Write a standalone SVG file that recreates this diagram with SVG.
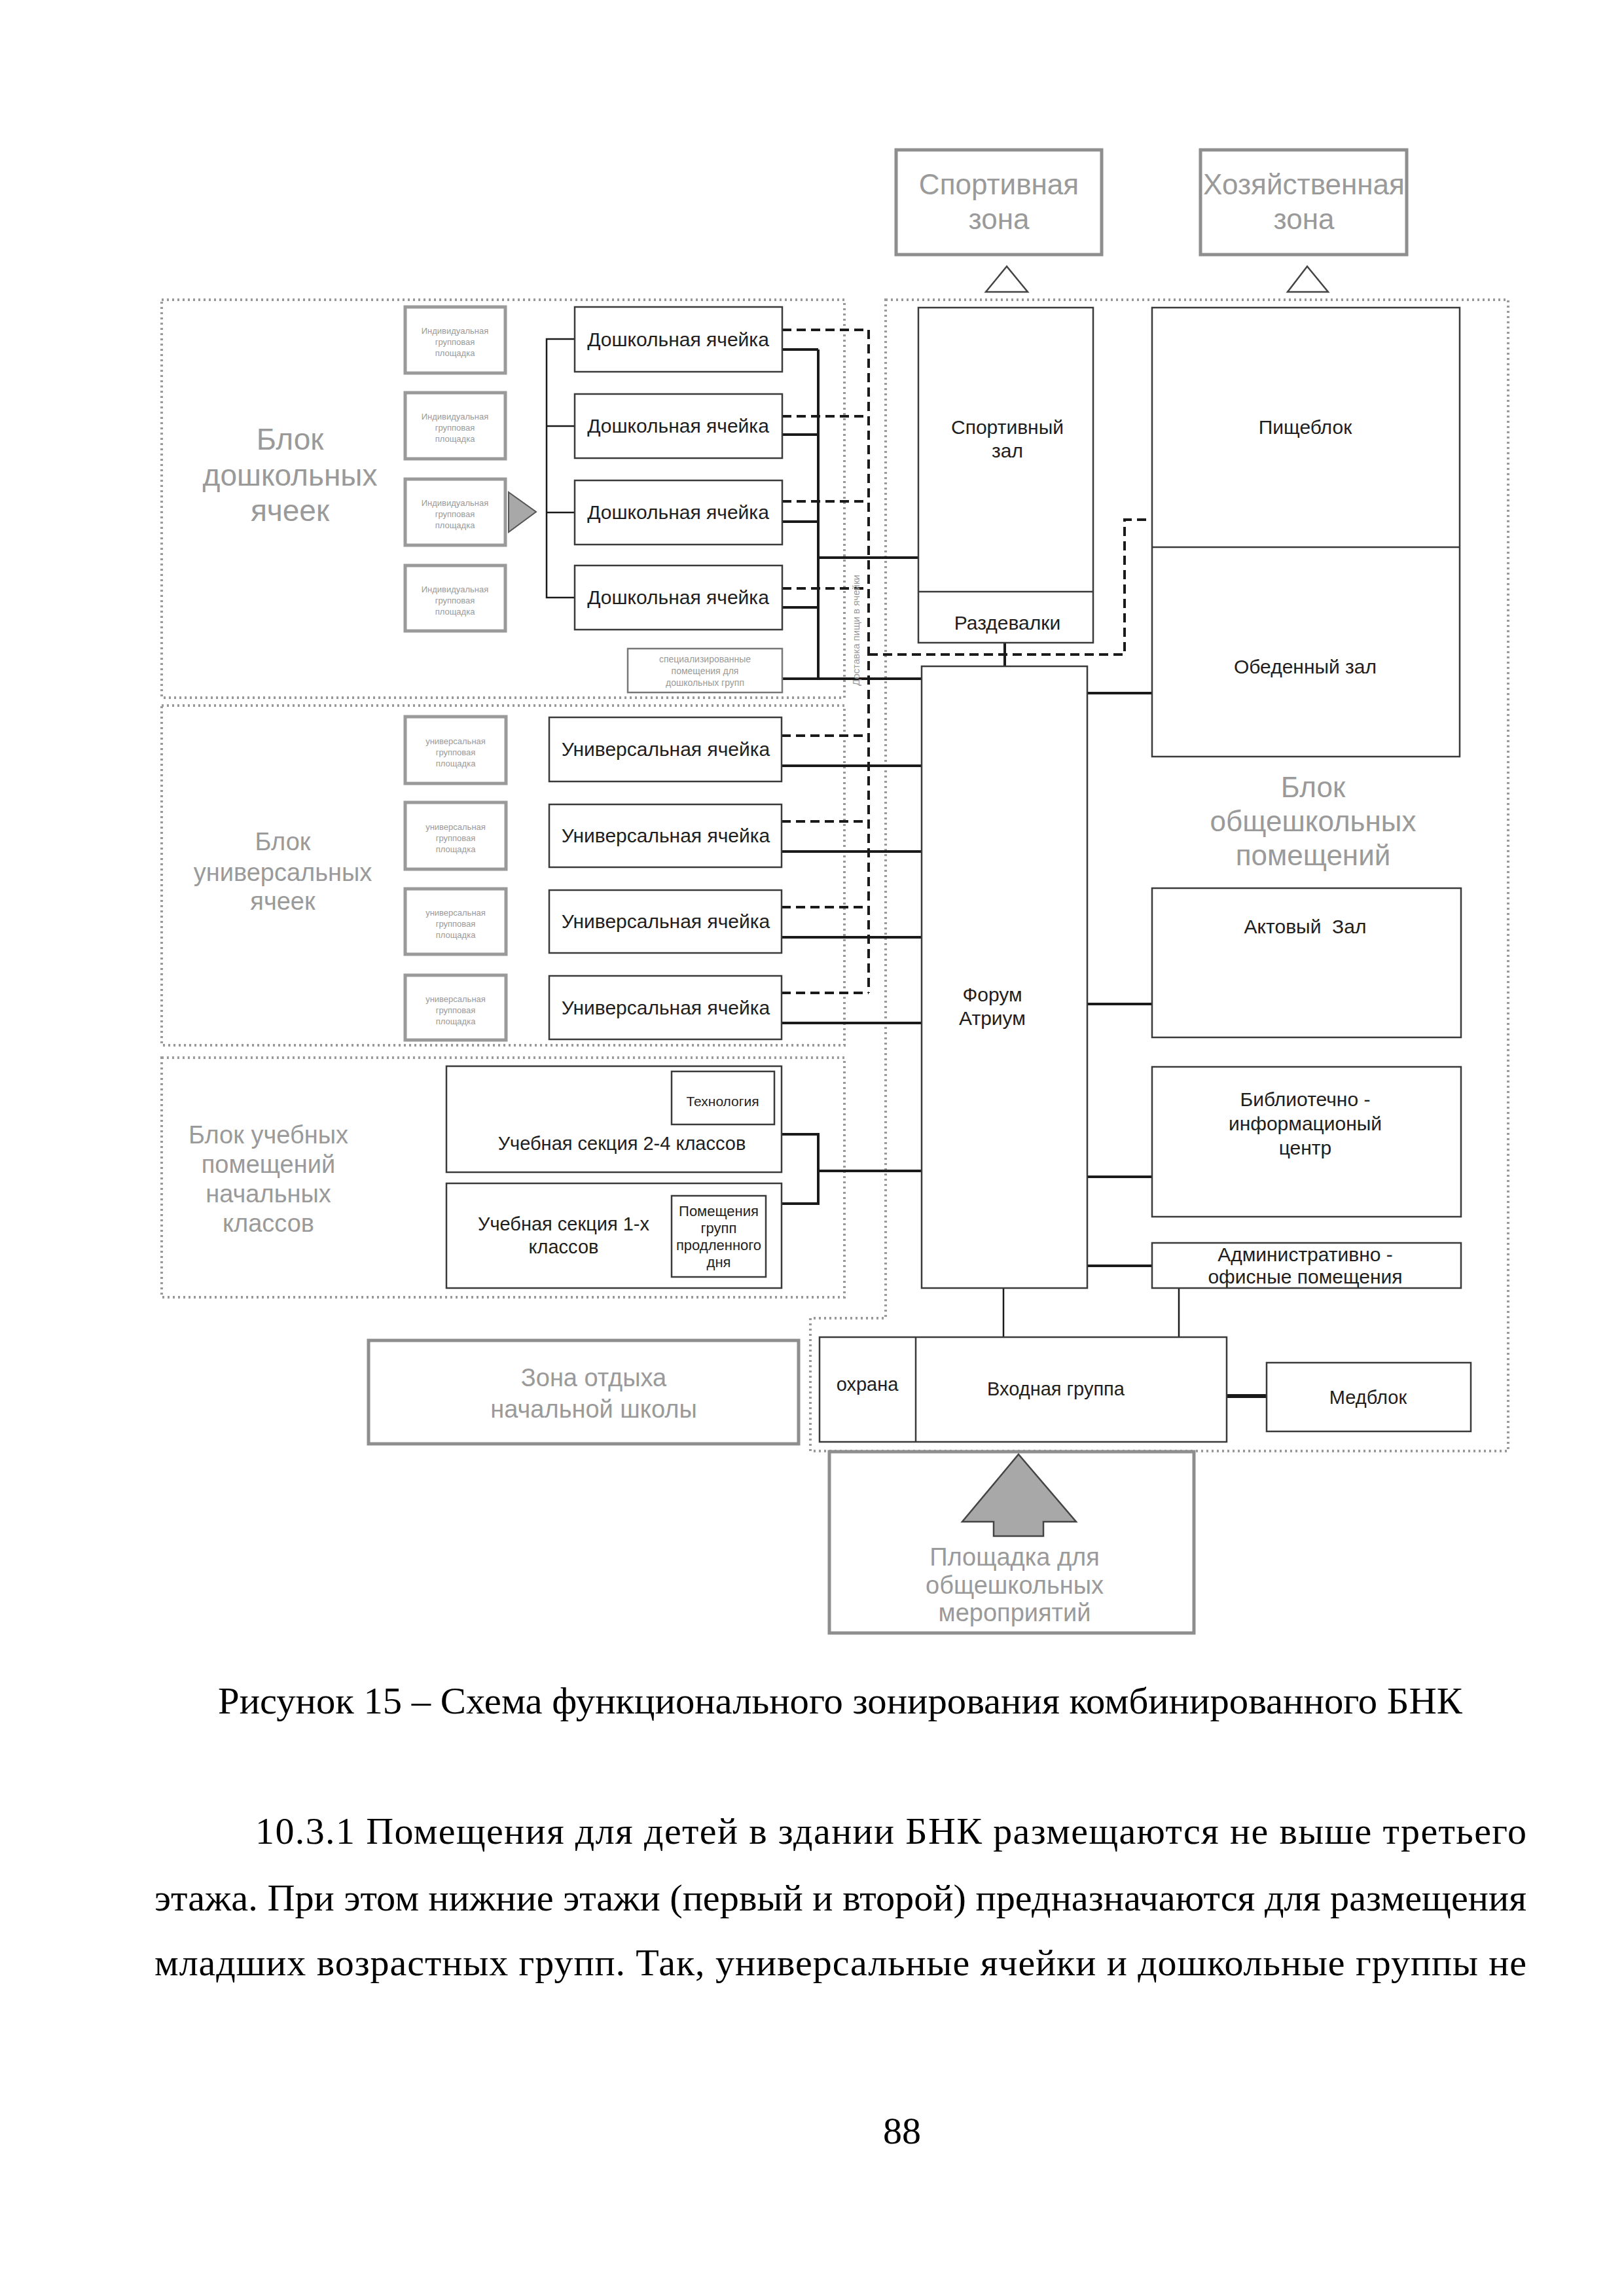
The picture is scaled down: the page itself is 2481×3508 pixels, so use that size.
<svg xmlns="http://www.w3.org/2000/svg" width="2481" height="3508" viewBox="0 0 2481 3508">
<style>
.bg{fill:#fff}
.zone{fill:#fff;stroke:#8e8e8e;stroke-width:5}
.blk{fill:none;stroke:#9a9a9a;stroke-width:4;stroke-dasharray:3 5}
.node{fill:#fff;stroke:#3a3a3a;stroke-width:2.5}
.small{fill:#fff;stroke:#9a9a9a;stroke-width:5}
.ln{fill:none;stroke:#1a1a1a;stroke-width:4}
.thin{fill:none;stroke:#1a1a1a;stroke-width:2.5}
.dash{fill:none;stroke:#1a1a1a;stroke-width:4;stroke-dasharray:14 8}
.t{font-family:"Liberation Sans",Arial,sans-serif;fill:#1e1e1e;text-anchor:middle}
.g{font-family:"Liberation Sans",Arial,sans-serif;fill:#9a9a9a;text-anchor:middle}
.s{font-family:"Liberation Serif","Times New Roman",serif;fill:#000;font-size:58px}
</style>
<rect class="bg" x="0" y="0" width="2481" height="3508"/>

<!-- block borders -->
<g id="blocks">
<rect class="blk" x="247" y="458" width="1043" height="608"/>
<rect class="blk" x="247" y="1078" width="1043" height="519"/>
<rect class="blk" x="247" y="1616" width="1043" height="366"/>
<path class="blk" d="M1353,458 H2304 V2217 H1238 V2014 H1353 Z"/>
<text class="g" font-size="46" x="443"><tspan x="443" y="687">Блок</tspan><tspan x="443" y="742">дошкольных</tspan><tspan x="443" y="796">ячеек</tspan></text>
<text class="g" font-size="38" x="432"><tspan x="432" y="1299">Блок</tspan><tspan x="432" y="1346">универсальных</tspan><tspan x="432" y="1390">ячеек</tspan></text>
<text class="g" font-size="38" x="410"><tspan x="410" y="1747">Блок учебных</tspan><tspan x="410" y="1792">помещений</tspan><tspan x="410" y="1837">начальных</tspan><tspan x="410" y="1882">классов</tspan></text>
<text class="g" font-size="44" x="2006"><tspan x="2006" y="1218">Блок</tspan><tspan x="2006" y="1270">общешкольных</tspan><tspan x="2006" y="1322">помещений</tspan></text>
</g>

<!-- connectors -->
<g id="connectors">
<path class="thin" d="M878,518 H835 V913 H878 M835,651 H878 M835,783 H878"/>
<path class="ln" d="M1195,534 H1250 M1195,664 H1250 M1195,797 H1250 M1195,928 H1250 M1250,534 V1037 M1195,1037 H1408 M1250,852 H1403"/>
<path class="dash" d="M1195,504 H1327 M1195,636 H1327 M1195,766 H1327 M1195,899 H1327"/>
<path class="dash" d="M1194,1124 H1327 M1194,1255 H1327 M1194,1386 H1327 M1194,1517 H1327 M1327,504 V1517"/>
<path class="ln" d="M1194,1170 H1408 M1194,1301 H1408 M1194,1432 H1408 M1194,1563 H1408"/>
<path class="ln" d="M1194,1733 H1250 V1839 H1194 M1250,1789 H1408"/>
<path class="dash" d="M1327,1000 H1718 V794 H1760"/>
<path class="ln" d="M1535,982 V1018"/>
<path class="ln" d="M1661,1059 H1760 M1661,1534 H1760 M1661,1798 H1760 M1661,1934 H1760"/>
<path class="thin" d="M1533,1968 V2043 M1801,1968 V2043"/>
<path class="ln" d="M1874,2133 H1935" style="stroke-width:6"/>
<text class="g" font-size="15" transform="translate(1313,963) rotate(-90)" x="0" y="0">Доставка пищи в ячейки</text>
</g>

<!-- outer zones -->
<g id="sport-zone">
<rect class="zone" x="1369" y="229" width="314" height="160"/>
<text class="g" font-size="44"><tspan x="1526" y="297">Спортивная</tspan><tspan x="1526" y="350">зона</tspan></text>
<polygon points="1538,407 1506,446 1570,446" fill="#fff" stroke="#444" stroke-width="2.5"/>
</g>
<g id="household-zone">
<rect class="zone" x="1834" y="229" width="315" height="160"/>
<text class="g" font-size="44"><tspan x="1992" y="297">Хозяйственная</tspan><tspan x="1992" y="350">зона</tspan></text>
<polygon points="1997,407 1967,446 2029,446" fill="#fff" stroke="#444" stroke-width="2.5"/>
</g>

<!-- preschool block -->
<g id="preschool-play-1"><rect class="small" x="619" y="469" width="153" height="101"/><text class="g" font-size="13"><tspan x="695" y="510">Индивидуальная</tspan><tspan x="695" y="527">групповая</tspan><tspan x="695" y="544">площадка</tspan></text></g>
<g id="preschool-play-2"><rect class="small" x="619" y="600" width="153" height="101"/><text class="g" font-size="13"><tspan x="695" y="641">Индивидуальная</tspan><tspan x="695" y="658">групповая</tspan><tspan x="695" y="675">площадка</tspan></text></g>
<g id="preschool-play-3"><rect class="small" x="619" y="732" width="153" height="101"/><text class="g" font-size="13"><tspan x="695" y="773">Индивидуальная</tspan><tspan x="695" y="790">групповая</tspan><tspan x="695" y="807">площадка</tspan></text></g>
<g id="preschool-play-4"><rect class="small" x="619" y="864" width="153" height="100"/><text class="g" font-size="13"><tspan x="695" y="905">Индивидуальная</tspan><tspan x="695" y="922">групповая</tspan><tspan x="695" y="939">площадка</tspan></text></g>
<g id="preschool-arrow"><polygon points="777,752 819,782 777,813" fill="#a8a8a8" stroke="#555" stroke-width="2"/></g>
<g id="preschool-cell-1"><rect class="node" x="878" y="469" width="317" height="99"/><text class="t" font-size="30" x="1036" y="529">Дошкольная ячейка</text></g>
<g id="preschool-cell-2"><rect class="node" x="878" y="602" width="317" height="98"/><text class="t" font-size="30" x="1036" y="661">Дошкольная ячейка</text></g>
<g id="preschool-cell-3"><rect class="node" x="878" y="734" width="317" height="98"/><text class="t" font-size="30" x="1036" y="793">Дошкольная ячейка</text></g>
<g id="preschool-cell-4"><rect class="node" x="878" y="864" width="317" height="98"/><text class="t" font-size="30" x="1036" y="923">Дошкольная ячейка</text></g>
<g id="preschool-special"><rect class="node" x="959" y="991" width="236" height="67" style="stroke:#777"/><text class="g" font-size="14"><tspan x="1077" y="1012">специализированные</tspan><tspan x="1077" y="1030">помещения для</tspan><tspan x="1077" y="1048">дошкольных групп</tspan></text></g>

<!-- universal block -->
<g id="universal-play-1"><rect class="small" x="619" y="1095" width="154" height="102"/><text class="g" font-size="13"><tspan x="696" y="1137">универсальная</tspan><tspan x="696" y="1154">групповая</tspan><tspan x="696" y="1171">площадка</tspan></text></g>
<g id="universal-play-2"><rect class="small" x="619" y="1226" width="154" height="102"/><text class="g" font-size="13"><tspan x="696" y="1268">универсальная</tspan><tspan x="696" y="1285">групповая</tspan><tspan x="696" y="1302">площадка</tspan></text></g>
<g id="universal-play-3"><rect class="small" x="619" y="1358" width="154" height="100"/><text class="g" font-size="13"><tspan x="696" y="1399">универсальная</tspan><tspan x="696" y="1416">групповая</tspan><tspan x="696" y="1433">площадка</tspan></text></g>
<g id="universal-play-4"><rect class="small" x="619" y="1490" width="154" height="99"/><text class="g" font-size="13"><tspan x="696" y="1531">универсальная</tspan><tspan x="696" y="1548">групповая</tspan><tspan x="696" y="1565">площадка</tspan></text></g>
<g id="universal-cell-1"><rect class="node" x="839" y="1096" width="355" height="98"/><text class="t" font-size="30" x="1017" y="1155">Универсальная ячейка</text></g>
<g id="universal-cell-2"><rect class="node" x="839" y="1229" width="355" height="96"/><text class="t" font-size="30" x="1017" y="1287">Универсальная ячейка</text></g>
<g id="universal-cell-3"><rect class="node" x="839" y="1360" width="355" height="96"/><text class="t" font-size="30" x="1017" y="1418">Универсальная ячейка</text></g>
<g id="universal-cell-4"><rect class="node" x="839" y="1491" width="355" height="97"/><text class="t" font-size="30" x="1017" y="1550">Универсальная ячейка</text></g>

<!-- primary block -->
<g id="section-2-4"><rect class="node" x="682" y="1629" width="512" height="162"/>
<rect class="node" x="1026" y="1637" width="157" height="81"/><text class="t" font-size="21" x="1104" y="1690">Технология</text>
<text class="t" font-size="29" x="950" y="1757">Учебная секция 2-4 классов</text></g>
<g id="section-1"><rect class="node" x="682" y="1808" width="512" height="160"/>
<rect class="node" x="1026" y="1827" width="144" height="124"/>
<text class="t" font-size="22"><tspan x="1098" y="1858">Помещения</tspan><tspan x="1098" y="1884">групп</tspan><tspan x="1098" y="1910">продленного</tspan><tspan x="1098" y="1936">дня</tspan></text>
<text class="t" font-size="29"><tspan x="861" y="1880">Учебная секция 1-х</tspan><tspan x="861" y="1915">классов</tspan></text></g>

<!-- common block -->
<g id="sport-hall"><rect class="node" x="1403" y="470" width="267" height="512"/><line x1="1403" y1="904" x2="1670" y2="904" stroke="#3a3a3a" stroke-width="2.5"/>
<text class="t" font-size="30"><tspan x="1539" y="663">Спортивный</tspan><tspan x="1539" y="699">зал</tspan></text>
<text class="t" font-size="30" x="1539" y="962">Раздевалки</text></g>
<g id="kitchen"><rect class="node" x="1760" y="470" width="470" height="686"/><line x1="1760" y1="836" x2="2230" y2="836" stroke="#3a3a3a" stroke-width="2.5"/>
<text class="t" font-size="30" x="1994" y="663">Пищеблок</text>
<text class="t" font-size="30" x="1994" y="1029">Обеденный зал</text></g>
<g id="forum"><rect class="node" x="1408" y="1018" width="253" height="950"/><text class="t" font-size="30"><tspan x="1516" y="1530">Форум</tspan><tspan x="1516" y="1566">Атриум</tspan></text></g>
<g id="assembly-hall"><rect class="node" x="1760" y="1357" width="472" height="228"/><text class="t" font-size="30" x="1994" y="1426" xml:space="preserve">Актовый  Зал</text></g>
<g id="library"><rect class="node" x="1760" y="1630" width="472" height="229"/><text class="t" font-size="30"><tspan x="1994" y="1690">Библиотечно -</tspan><tspan x="1994" y="1727">информационый</tspan><tspan x="1994" y="1764">центр</tspan></text></g>
<g id="admin"><rect class="node" x="1760" y="1899" width="472" height="69"/><text class="t" font-size="30"><tspan x="1994" y="1927">Административно -</tspan><tspan x="1994" y="1961">офисные помещения</tspan></text></g>
<g id="entrance"><rect class="node" x="1252" y="2043" width="622" height="160"/><line x1="1399" y1="2043" x2="1399" y2="2203" stroke="#3a3a3a" stroke-width="2.5"/>
<text class="t" font-size="29" x="1325" y="2125">охрана</text>
<text class="t" font-size="29" x="1613" y="2132">Входная группа</text></g>
<g id="medblock"><rect class="node" x="1935" y="2082" width="312" height="105"/><text class="t" font-size="29" x="2090" y="2145">Медблок</text></g>

<!-- outer lower zones -->
<g id="rest-zone"><rect class="zone" x="563" y="2048" width="657" height="158"/><text class="g" font-size="38"><tspan x="907" y="2118">Зона отдыха</tspan><tspan x="907" y="2166">начальной школы</tspan></text></g>
<g id="events-area"><rect class="zone" x="1267" y="2218" width="557" height="277"/>
<polygon points="1556,2222 1644,2325 1594,2325 1594,2347 1518,2347 1518,2325 1470,2325" fill="#a8a8a8" stroke="#444" stroke-width="2.5"/>
<text class="g" font-size="38"><tspan x="1550" y="2392">Площадка для</tspan><tspan x="1550" y="2435">общешкольных</tspan><tspan x="1550" y="2477">мероприятий</tspan></text></g>

<!-- page text -->
<text class="s" x="333" y="2618" textLength="1901" lengthAdjust="spacingAndGlyphs">Рисунок 15 – Схема функционального зонирования комбинированного БНК</text>
<text class="s" x="390" y="2817" textLength="1942" lengthAdjust="spacing">10.3.1 Помещения для детей в здании БНК размещаются не выше третьего</text>
<text class="s" x="236" y="2919" textLength="2096" lengthAdjust="spacingAndGlyphs">этажа. При этом нижние этажи (первый и второй) предназначаются для размещения</text>
<text class="s" x="236" y="3018" textLength="2096" lengthAdjust="spacing">младших возрастных групп. Так, универсальные ячейки и дошкольные группы не</text>
<text class="s" x="1378" y="3275" text-anchor="middle">88</text>
</svg>
